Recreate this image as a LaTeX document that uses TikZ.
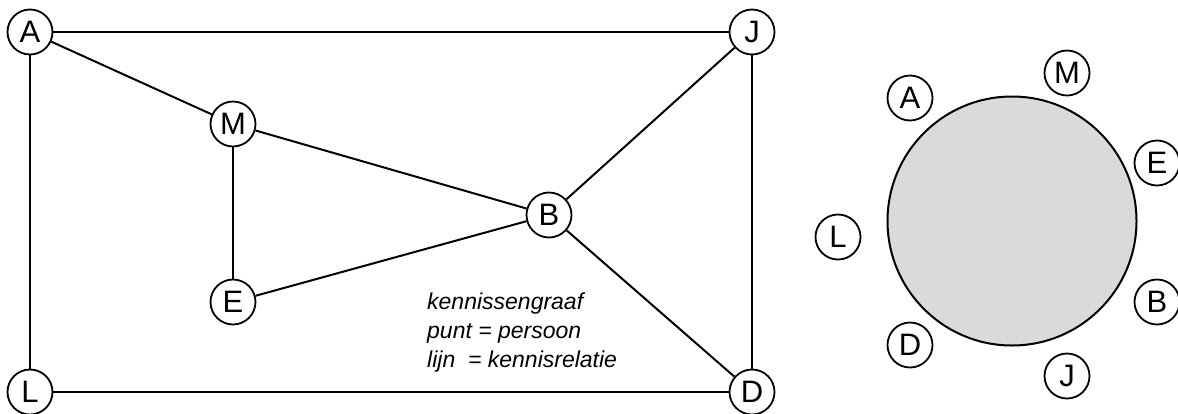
\documentclass[tikz,border=0pt]{standalone}
\usepackage{fontspec}
\setmainfont{Liberation Sans}
\definecolor{fillgray}{RGB}{218,218,218}
\begin{document}
\begin{tikzpicture}[x=1pt,y=-1pt,
  pnode/.style={circle,draw=black,line width=1.8pt,fill=white,minimum size=45pt,inner sep=0pt,font=\fontsize{31}{31}\selectfont},
  edge/.style={line width=2pt},
  legend/.style={anchor=base west,inner sep=0pt,font=\fontsize{23}{23}\selectfont\itshape}]
\useasboundingbox (0,0) rectangle (1178,413);
% left graph
\node[pnode] (A) at (30,32) {A};
\node[pnode] (J) at (752,32) {J};
\node[pnode] (M) at (233,124) {M};
\node[pnode] (B) at (549,215) {B};
\node[pnode] (E) at (233,302) {E};
\node[pnode] (L) at (30,392) {L};
\node[pnode] (D) at (752,392) {D};
\draw[edge] (A) -- (J);
\draw[edge] (A) -- (M);
\draw[edge] (A) -- (L);
\draw[edge] (J) -- (B);
\draw[edge] (J) -- (D);
\draw[edge] (M) -- (B);
\draw[edge] (M) -- (E);
\draw[edge] (E) -- (B);
\draw[edge] (B) -- (D);
\draw[edge] (L) -- (D);
\node[legend] (t1) at (427,309) {kennissengraaf};
\node[legend] (t2) at (427,338) {punt = persoon};
\node[legend] (t3) at (427,367) {lijn\ \ = kennisrelatie};
% right picture
\node[circle,draw=black,line width=2pt,fill=fillgray,minimum size=249pt,inner sep=0pt] (big) at (1012,221) {};
\node[pnode] (rA) at (910,98) {A};
\node[pnode] (rM) at (1067,73) {M};
\node[pnode] (rE) at (1157,163) {E};
\node[pnode] (rL) at (838,237) {L};
\node[pnode] (rB) at (1157,302) {B};
\node[pnode] (rD) at (910,345) {D};
\node[pnode] (rJ) at (1067,376) {J};
\end{tikzpicture}
\end{document}
